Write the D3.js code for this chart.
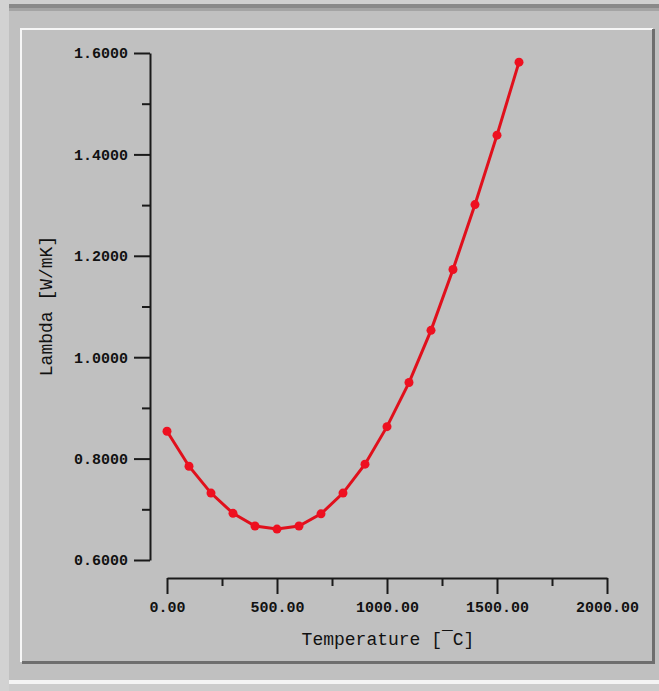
<!DOCTYPE html>
<html>
<head>
<meta charset="utf-8">
<script src="https://cdn.jsdelivr.net/npm/d3@7/dist/d3.min.js"></script>
<style>
  html, body { margin: 0; padding: 0; background: #c0c0c0; }
  svg { display: block; }
</style>
</head>
<body>
<script>
// Thermal conductivity vs. temperature
const temperatures = [0, 100, 200, 300, 400, 500, 600, 700, 800, 900, 1000, 1100, 1200, 1300, 1400, 1500, 1600];
const lambdaValues = [0.854, 0.785, 0.732, 0.692, 0.667, 0.661, 0.667, 0.691, 0.732, 0.789, 0.863, 0.950, 1.053, 1.173, 1.301, 1.438, 1.582];
const xMajorTicks = [0, 500, 1000, 1500, 2000];
const xMinorTicks = [250, 750, 1250, 1750];
const yMajorTicks = [0.6, 0.8, 1.0, 1.2, 1.4, 1.6];
const yMinorTicks = [0.7, 0.9, 1.1, 1.3, 1.5];
const xTitle = "Temperature [\u00AFC]";
const yTitle = "Lambda [W/mK]";

const W = 659, H = 691;
const svg = d3.select("body").append("svg").attr("width", W).attr("height", H);

// window chrome around the plot panel
svg.append("rect").attr("x", 0).attr("y", 0).attr("width", W).attr("height", H).attr("fill", "#c0c0c0");
svg.append("rect").attr("x", 0).attr("y", 0).attr("width", 9).attr("height", H).attr("fill", "#d2d2d2");
svg.append("rect").attr("x", 9).attr("y", 0).attr("width", W - 9).attr("height", 4).attr("fill", "#d0d0d0");
svg.append("rect").attr("x", 9).attr("y", 4).attr("width", W - 9).attr("height", 4).attr("fill", "#8a8a8a");
svg.append("rect").attr("x", 9).attr("y", 8).attr("width", W - 9).attr("height", 3).attr("fill", "#a4a4a4");
svg.append("rect").attr("x", 9).attr("y", 680).attr("width", W - 9).attr("height", 4).attr("fill", "#f4f4f4");
svg.append("rect").attr("x", 9).attr("y", 684).attr("width", W - 9).attr("height", 7).attr("fill", "#cccccc");

// panel bevel: light top/left, dark bottom/right
svg.append("rect").attr("x", 20).attr("y", 28).attr("width", 633).attr("height", 2).attr("fill", "#f6f6f6");
svg.append("rect").attr("x", 20).attr("y", 28).attr("width", 2).attr("height", 634).attr("fill", "#f6f6f6");
svg.append("rect").attr("x", 652).attr("y", 29).attr("width", 3).attr("height", 635).attr("fill", "#6e6e6e");
svg.append("rect").attr("x", 22).attr("y", 661).attr("width", 633).attr("height", 3).attr("fill", "#6e6e6e");

const x = d3.scaleLinear().domain([0, 2000]).range([167, 607]);
const y = d3.scaleLinear().domain([0.6, 1.6]).range([560, 53]);

const tickFont = "'Liberation Mono', 'DejaVu Sans Mono', monospace";

function styleAxis(g) {
  g.selectAll("path.domain").attr("stroke", "#1a1a1a").attr("stroke-width", 2);
  g.selectAll(".tick line").attr("stroke", "#1a1a1a").attr("stroke-width", 2);
  g.selectAll(".tick text")
    .attr("fill", "#111")
    .style("font-family", tickFont)
    .style("font-size", "15px")
    .style("font-weight", "bold");
}

// y axis
const yAxisG = svg.append("g").attr("transform", "translate(150,0)");
yAxisG.call(d3.axisLeft(y).tickValues(yMajorTicks).tickSize(16).tickSizeOuter(0).tickPadding(6).tickFormat(d3.format(".4f")));
styleAxis(yAxisG);
const yMinorG = svg.append("g").attr("transform", "translate(150,0)");
yMinorG.call(d3.axisLeft(y).tickValues(yMinorTicks).tickSize(8).tickSizeOuter(0).tickFormat(""));
yMinorG.select("path.domain").remove();
styleAxis(yMinorG);

// x axis
const xAxisG = svg.append("g").attr("transform", "translate(0,578)");
xAxisG.call(d3.axisBottom(x).tickValues(xMajorTicks).tickSize(16).tickSizeOuter(0).tickPadding(7).tickFormat(d3.format(".2f")));
styleAxis(xAxisG);
const xMinorG = svg.append("g").attr("transform", "translate(0,578)");
xMinorG.call(d3.axisBottom(x).tickValues(xMinorTicks).tickSize(8).tickSizeOuter(0).tickFormat(""));
xMinorG.select("path.domain").remove();
styleAxis(xMinorG);

// axis titles
svg.append("text")
  .attr("x", 388).attr("y", 645)
  .attr("text-anchor", "middle")
  .attr("fill", "#111")
  .style("font-family", "'Liberation Mono', monospace")
  .style("font-size", "18px")
  .text(xTitle);

svg.append("text")
  .attr("transform", "translate(52,306) rotate(-90)")
  .attr("text-anchor", "middle")
  .attr("fill", "#111")
  .style("font-family", "'Liberation Mono', monospace")
  .style("font-size", "18px")
  .text(yTitle);

// data series
const pts = temperatures.map((t, i) => [t, lambdaValues[i]]);
svg.append("path")
  .datum(pts)
  .attr("fill", "none")
  .attr("stroke", "#e0101c")
  .attr("stroke-width", 3)
  .attr("d", d3.line().x(d => x(d[0])).y(d => y(d[1])));

svg.selectAll("circle.pt")
  .data(pts)
  .enter().append("circle")
  .attr("class", "pt")
  .attr("cx", d => x(d[0]))
  .attr("cy", d => y(d[1]))
  .attr("r", 4.5)
  .attr("fill", "#ee1020");
</script>
</body>
</html>
